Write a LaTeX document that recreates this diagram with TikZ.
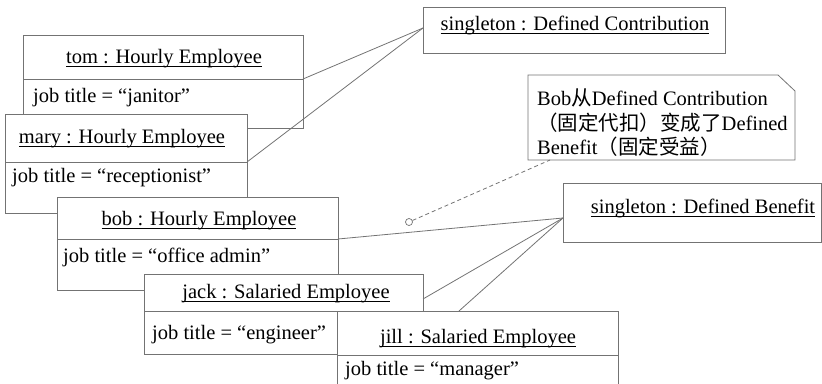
\documentclass[tikz,border=0pt]{standalone}
\usepackage{fontspec}
\setmainfont{Liberation Serif}
\newfontfamily\cjk{Noto Sans CJK SC}
\definecolor{ln}{RGB}{115,115,115}
\newcommand{\myul}[1]{\leavevmode\setbox0\hbox{#1}\rlap{\rule[-4pt]{\wd0}{0.9pt}}\box0}
\newcommand{\zh}[1]{{\cjk\fontsize{20.5pt}{24pt}\selectfont #1}}
\begin{document}
\begin{tikzpicture}[x=1pt,y=-1pt,
  objbox/.style={draw=ln, line width=0.8pt, fill=white, rectangle, anchor=north west, inner sep=0pt, outer sep=0pt},
  txt/.style={inner sep=0pt, anchor=base, font=\fontsize{20.5pt}{24pt}\selectfont},
  attr/.style={txt, anchor=base west},
  sepline/.style={draw=ln, line width=0.8pt},
  conn/.style={draw=ln, line width=0.8pt}]
\useasboundingbox (0,0) rectangle (822,383);
\clip (0,0) rectangle (822,383);

% tom
\node[objbox, minimum width=280pt, minimum height=93pt] (tom) at (23,35) {};
\draw[sepline] (tom.west |- 0,79) -- (tom.east |- 0,79);
\node[txt] (tomt) at (164,63) {\myul{tom : Hourly Employee}};
\node[attr] (toma) at (33,102) {job title = “janitor”};

% mary
\node[objbox, minimum width=242pt, minimum height=99pt] (mary) at (5,114) {};
\draw[sepline] (mary.west |- 0,162) -- (mary.east |- 0,162);
\node[txt] (maryt) at (122,143) {\myul{mary : Hourly Employee}};
\node[attr] (marya) at (12,182) {job title = “receptionist”};

% bob
\node[objbox, minimum width=281pt, minimum height=93pt] (bob) at (57,197) {};
\draw[sepline] (bob.west |- 0,239) -- (bob.east |- 0,239);
\node[txt] (bobt) at (199,225) {\myul{bob : Hourly Employee}};
\node[attr] (boba) at (63,262) {job title = “office admin”};

% jack
\node[objbox, minimum width=279pt, minimum height=80pt] (jack) at (144,274) {};
\draw[sepline] (jack.west |- 0,311) -- (jack.east |- 0,311);
\node[txt] (jackt) at (286,298) {\myul{jack : Salaried Employee}};
\node[attr] (jacka) at (152,339) {job title = “engineer”};

% jill
\node[objbox, minimum width=281pt, minimum height=95pt] (jill) at (337,311) {};
\draw[sepline] (jill.west |- 0,355) -- (jill.east |- 0,355);
\node[txt] (jillt) at (478,343) {\myul{jill : Salaried Employee}};
\node[attr] (jilla) at (345,375) {job title = “manager”};

% singletons
\node[objbox, minimum width=302pt, minimum height=46pt] (dc) at (423,7) {};
\node[txt] (dct) at (575,30) {\myul{singleton : Defined Contribution}};
\node[objbox, minimum width=258pt, minimum height=59pt] (db) at (563,183) {};
\node[txt] (dbt) at (703,213) {\myul{singleton : Defined Benefit}};

% note
\draw[draw=ln, line width=0.8pt, fill=white] (528,75) -- (778,75) -- (795,91) -- (795,160) -- (528,160) -- cycle;
\node[attr] (note1) at (537,105) {Bob\zh{从}Defined Contribution};
\node[attr] (note2) at (537,130) {\zh{（固定代扣）变成了}Defined};
\node[attr] (note3) at (537,154) {Benefit\zh{（固定受益）}};

% connectors
\coordinate (dcC) at ([yshift=2pt]dc.west);
\coordinate (dbC) at ([yshift=-5.5pt]db.west);
\coordinate (tomC) at (tom.east |- 0,79);
\coordinate (maryC) at (mary.east |- 0,162);
\coordinate (bobC) at (bob.east |- 0,239);
\coordinate (jackC) at ([yshift=-25pt]jack.north east);
\coordinate (jillC) at (459,311);
\coordinate (noteC) at (550,160);
\draw[conn] (tomC) -- (dcC);
\draw[conn] (maryC) -- (dcC);
\draw[conn] (bobC) -- (dbC);
\draw[conn] (jackC) -- (dbC);
\draw[conn] (jillC) -- (dbC);
\node[circle, draw=ln, line width=0.7pt, fill=white, inner sep=0pt, minimum size=7pt] (pin) at (409,222) {};
\draw[conn, dashed, dash pattern=on 4pt off 3pt] (pin) -- (noteC);
\end{tikzpicture}
\end{document}
